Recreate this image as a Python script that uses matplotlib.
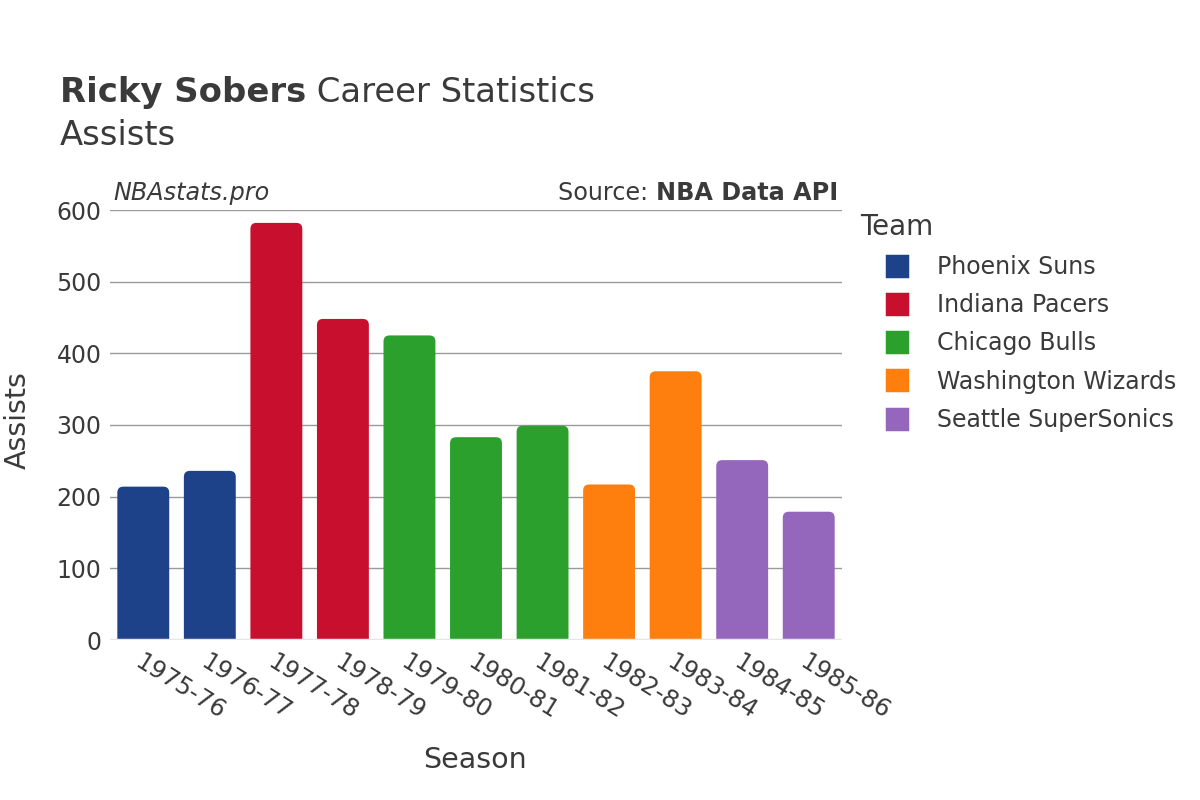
import matplotlib
matplotlib.use("Agg")
import matplotlib.pyplot as plt
from matplotlib.patches import FancyBboxPatch
from matplotlib.lines import Line2D

plt.rcParams['font.family'] = ['DejaVu Sans']

seasons = ["1975-76", "1976-77", "1977-78", "1978-79", "1979-80", "1980-81",
           "1981-82", "1982-83", "1983-84", "1984-85", "1985-86"]
assists = [214, 236, 582, 448, 425, 283, 299, 217, 375, 251, 179]
teams = ["Phoenix Suns", "Phoenix Suns", "Indiana Pacers", "Indiana Pacers",
         "Chicago Bulls", "Chicago Bulls", "Chicago Bulls",
         "Washington Wizards", "Washington Wizards",
         "Seattle SuperSonics", "Seattle SuperSonics"]
team_order = ["Phoenix Suns", "Indiana Pacers", "Chicago Bulls",
              "Washington Wizards", "Seattle SuperSonics"]
team_colors = {"Phoenix Suns": "#1d428a", "Indiana Pacers": "#c8102e",
               "Chicago Bulls": "#2ca02c", "Washington Wizards": "#ff7f0e",
               "Seattle SuperSonics": "#9467bd"}

txt = "#3a3a3a"
W, H = 1200, 800
fig = plt.figure(figsize=(12, 8), dpi=100)
ax = fig.add_axes([110 / W, 1 - 640 / H, 732 / W, 430 / H])

ymax = 600
ax.set_xlim(-0.5, len(seasons) - 0.5)
ax.set_ylim(0, ymax)

# rounded bars
bw = 0.78
xpx = len(seasons) / 732.0
ypx = ymax / 430.0
r = 6 * xpx
for i, (v, t) in enumerate(zip(assists, teams)):
    p = FancyBboxPatch((i - bw / 2, -20), bw, v + 20,
                       boxstyle=f"round,pad=0,rounding_size={r}",
                       mutation_aspect=ypx / xpx,
                       facecolor=team_colors[t], edgecolor="none", zorder=3)
    ax.add_patch(p)

ax.set_yticks(range(0, 601, 100))
ax.yaxis.grid(True, color="#9a9a9a", linewidth=1, zorder=0)
ax.axhline(0, color="#e6e6e6", linewidth=2.5, zorder=4)
ax.set_xticks(range(len(seasons)))
ax.set_xticklabels(seasons, rotation=-32, ha="left", rotation_mode="anchor")
for s in ax.spines.values():
    s.set_visible(False)
ax.tick_params(axis="both", length=0, labelsize=17, colors=txt)
ax.tick_params(axis="x", labelsize=17.5, pad=7)
ax.tick_params(axis="y", pad=6)

ax.set_xlabel("Season", fontsize=20.5, color=txt)
ax.xaxis.set_label_coords(0.4986, (640 - 746) / 430)
ax.set_ylabel("Assists", fontsize=20.5, color=txt)
ax.yaxis.set_label_coords((32 - 110) / 732, 0.512)

# title
fig.canvas.draw()
rend = fig.canvas.get_renderer()
t1 = fig.text(60 / W, 1 - 102 / H, "Ricky Sobers", fontsize=24.4,
              fontweight="bold", color=txt, va="baseline")
bb = t1.get_window_extent(rend)
fig.text(bb.x1 / W, 1 - 102 / H, " Career Statistics", fontsize=24.4,
         color=txt, va="baseline")
fig.text(60 / W, 1 - 145 / H, "Assists", fontsize=24.4, color=txt, va="baseline")

# watermark / source
fig.text(113 / W, 1 - 200 / H, "NBAstats.pro", fontsize=17.2, style="italic",
         color=txt, va="baseline")
s2 = fig.text(838 / W, 1 - 200 / H, "NBA Data API", fontsize=17.2,
              fontweight="bold", color=txt, va="baseline", ha="right")
bb2 = s2.get_window_extent(rend)
fig.text(bb2.x0 / W, 1 - 200 / H, "Source: ", fontsize=17.2, color=txt,
         va="baseline", ha="right")

# legend
handles = [Line2D([], [], marker="s", linestyle="none", markersize=15,
                  markerfacecolor=team_colors[t], markeredgecolor=team_colors[t],
                  markeredgewidth=2.5)
           for t in team_order]
leg = fig.legend(handles, team_order, title="Team", loc="upper left",
                 bbox_to_anchor=(860 / W, 1 - 213 / H), frameon=False,
                 fontsize=17, title_fontsize=20, labelspacing=0.6,
                 handlelength=3.13, handletextpad=0.13, borderpad=0,
                 borderaxespad=0, alignment="left")
for tx in leg.get_texts():
    tx.set_color(txt)
leg.get_title().set_color(txt)
for h in leg.legend_handles:
    h.set_markeredgewidth(2.5)
    h.set_solid_joinstyle("round")

fig.savefig("out.png", dpi=100, facecolor="white")
